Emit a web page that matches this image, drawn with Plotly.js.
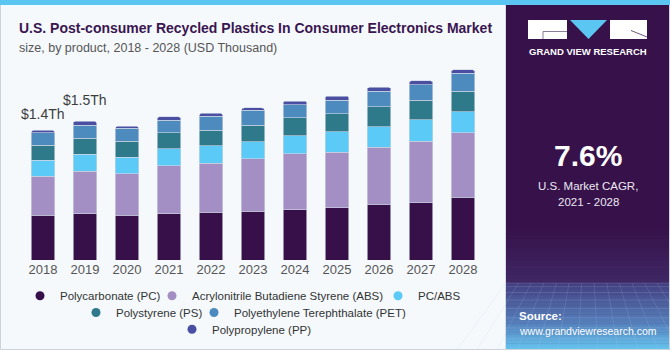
<!DOCTYPE html>
<html>
<head>
<meta charset="utf-8">
<script src="https://cdn.plot.ly/plotly-3.0.1.min.js"></script>
<style>
html,body{margin:0;padding:0;background:#f5f9fc;}
#chart{width:670px;height:350px;}
</style>
</head>
<body>
<div id="chart"></div>
<script>
// ---- data ----
var years = ['2018','2019','2020','2021','2022','2023','2024','2025','2026','2027','2028'];
var seriesNames = ['Polycarbonate (PC)','Acrylonitrile Butadiene Styrene (ABS)','PC/ABS','Polystyrene (PS)','Polyethylene Terephthalate (PET)','Polypropylene (PP)'];
var pc    = [0.486,0.500,0.486,0.500,0.518,0.526,0.543,0.562,0.602,0.616,0.680];
var abs   = [0.421,0.458,0.446,0.518,0.529,0.565,0.602,0.602,0.616,0.666,0.694];
var pcabs = [0.173,0.184,0.177,0.184,0.187,0.187,0.198,0.219,0.222,0.233,0.227];
var ps    = [0.162,0.173,0.173,0.173,0.170,0.180,0.194,0.194,0.213,0.213,0.224];
var pet   = [0.133,0.140,0.140,0.134,0.151,0.159,0.140,0.151,0.170,0.165,0.191];
var pp    = [0.026,0.043,0.022,0.039,0.029,0.025,0.040,0.043,0.043,0.043,0.039];
var labelYears = ['2018','2019'];
var labelTexts = ['$1.4Th','$1.5Th'];
var cagrText = '7.6%';

var colors = ['#37104a','#a48fc5','#5ccaf6','#2e7a8b','#4d8bbf','#4a4fa2'];
var seriesValues = [pc,abs,pcabs,ps,pet,pp];

// geometry helpers (pixel -> paper coords)
var L = 22, R = 186, T = 60, B = 90, W = 670, H = 350;
var PW = W - L - R, PH = H - T - B;
function xp(px){ return (px - L) / PW; }
function yp(py){ return (H - B - py) / PH; }

var FONT = 'Liberation Sans, Arial, sans-serif';

var traces = [];
seriesValues.forEach(function(vals, i){
  traces.push({
    type:'bar', x: years, y: vals, name: seriesNames[i],
    marker:{color: colors[i], line:{color:'rgba(205,212,228,0.9)', width:0.7}},
    showlegend:false, hoverinfo:'skip'
  });
});
// legend entries (circle symbols), one legend box per entry
var legendIds = ['legend','legend2','legend3','legend4','legend5','legend6'];
seriesNames.forEach(function(n, i){
  traces.push({
    type:'scatter', mode:'markers', x:[null], y:[null], name:n,
    marker:{color: colors[i], size:9, symbol:'circle'},
    legend: legendIds[i], showlegend:true, hoverinfo:'skip'
  });
});

function totalOf(yr){
  var k = years.indexOf(yr), s = 0;
  seriesValues.forEach(function(v){ s += v[k]; });
  return s;
}

var annotations = [];
var shifts = [16, 21];
labelYears.forEach(function(yr, i){
  annotations.push({x: years.indexOf(yr), y: totalOf(yr), xref:'x', yref:'y', text: labelTexts[i],
    showarrow:false, yshift: shifts[i], yanchor:'middle',
    font:{family:FONT, size:14, color:'#3d3d3d'}});
});
// titles
annotations.push({xref:'paper', yref:'paper', x: xp(17), y: yp(28), xanchor:'left', yanchor:'middle',
  text:'<b>U.S. Post-consumer Recycled Plastics In Consumer Electronics Market</b>', showarrow:false,
  font:{family:FONT, size:14, color:'#3a1650'}});
annotations.push({xref:'paper', yref:'paper', x: xp(17), y: yp(47.5), xanchor:'left', yanchor:'middle',
  text:'size, by product, 2018 - 2028 (USD Thousand)', showarrow:false,
  font:{family:FONT, size:12.5, color:'#555555'}});
// right panel texts
annotations.push({xref:'paper', yref:'paper', x: xp(588), y: yp(51), xanchor:'center', yanchor:'middle',
  text:'<b>GRAND VIEW RESEARCH</b>', showarrow:false, font:{family:FONT, size:9.5, color:'#ffffff'}});
annotations.push({xref:'paper', yref:'paper', x: xp(588), y: yp(155), xanchor:'center', yanchor:'middle',
  text:'<b>'+cagrText+'</b>', showarrow:false, font:{family:FONT, size:30, color:'#ffffff'}});
annotations.push({xref:'paper', yref:'paper', x: xp(588), y: yp(186), xanchor:'center', yanchor:'middle',
  text:'U.S. Market CAGR,', showarrow:false, font:{family:FONT, size:11.5, color:'#ece8f2'}});
annotations.push({xref:'paper', yref:'paper', x: xp(588), y: yp(202), xanchor:'center', yanchor:'middle',
  text:'2021 - 2028', showarrow:false, font:{family:FONT, size:11.5, color:'#ece8f2'}});
annotations.push({xref:'paper', yref:'paper', x: xp(517), y: yp(316), xanchor:'left', yanchor:'middle',
  text:'<b>Source:</b>', showarrow:false, font:{family:FONT, size:11.5, color:'#ffffff'}});
annotations.push({xref:'paper', yref:'paper', x: xp(517), y: yp(331), xanchor:'left', yanchor:'middle',
  text:'www.grandviewresearch.com', showarrow:false, font:{family:FONT, size:10.5, color:'#ffffff'}});

// shapes
function rect(x0,y0,x1,y1,fill,layer){
  return {type:'rect', xref:'paper', yref:'paper', x0:xp(x0), x1:xp(x1), y0:yp(y1), y1:yp(y0),
    fillcolor:fill, line:{width:0}, layer: layer||'below'};
}
function hex(c){ return [parseInt(c.substr(1,2),16),parseInt(c.substr(3,2),16),parseInt(c.substr(5,2),16)]; }
function mix(a,b,t){ var A=hex(a),Bc=hex(b); return 'rgb('+A.map(function(v,i){return Math.round(v+(Bc[i]-v)*t);}).join(',')+')'; }
var shapes = [];
shapes.push(rect(506,0,670,350,'#37124a'));
var n1 = 12;
for (var i=0;i<n1;i++){
  var y0 = 230 + i*(283-230)/n1, y1 = 230 + (i+1)*(283-230)/n1 + 0.5;
  shapes.push(rect(506,y0,670,y1,mix('#37124a','#3f2865',(i+0.5)/n1)));
}
var n2 = 30;
for (var j=0;j<n2;j++){
  var t = (j+0.5)/n2;
  var c = t<0.6 ? mix('#433e80','#5580bb',t/0.6) : mix('#5580bb','#66c6f0',(t-0.6)/0.4);
  var yy0 = 283 + j*(350-283)/n2, yy1 = 283 + (j+1)*(350-283)/n2 + 0.5;
  shapes.push(rect(506,yy0,670,yy1,c));
}
for (var g=0; g<8; g++){
  var yy = 283 + Math.pow(g/8,1.4)*67;
  shapes.push({type:'line', xref:'paper', yref:'paper', x0:xp(506), x1:xp(670), y0:yp(yy), y1:yp(yy),
    line:{color:'rgba(180,200,240,0.25)', width:0.7}, layer:'below'});
}
for (var v=0; v<14; v++){
  var xt = 506 + v*12.6, xb = 588 + (xt-588)*1.6;
  shapes.push({type:'line', xref:'paper', yref:'paper', x0:xp(xt), x1:xp(xb), y0:yp(283), y1:yp(350),
    line:{color:'rgba(180,200,240,0.22)', width:0.7}, layer:'below'});
}
shapes.push(rect(0,0,670,5,'#5bc6f1','above'));
shapes.push({type:'rect', xref:'paper', yref:'paper', x0:xp(0.5), x1:xp(669.5), y0:yp(349.5), y1:yp(0.5),
  line:{color:'#cdd3da', width:1}, layer:'below'});
shapes.push({type:'line', xref:'paper', yref:'paper', x0:xp(505.5), x1:xp(505.5), y0:yp(5), y1:yp(350),
  line:{color:'#d5dbe2', width:1}, layer:'below'});
// logo
shapes.push(rect(528,20,567,39,'#ffffff','above'));
shapes.push(rect(610,20,647,39,'#ffffff','above'));
shapes.push({type:'path', xref:'paper', yref:'paper', layer:'above',
  path:'M '+xp(570)+' '+yp(20)+' L '+xp(607)+' '+yp(20)+' L '+xp(588.5)+' '+yp(39)+' Z',
  fillcolor:'#5bc6f1', line:{width:0}});
shapes.push({type:'path', xref:'paper', yref:'paper', layer:'above',
  path:'M '+xp(543)+' '+yp(39)+' L '+xp(543)+' '+yp(31.5)+' L '+xp(567)+' '+yp(31.5),
  line:{color:'#8a7f96', width:1}});
shapes.push({type:'line', xref:'paper', yref:'paper', layer:'above',
  x0:xp(631), y0:yp(30.5), x1:xp(647), y1:yp(37), line:{color:'#6a5a80', width:1}});

// legend boxes: text start x and row center y from the reference
var legTextX = [60, 192, 418, 116, 234, 212];
var legRowY  = [295.7, 295.7, 295.7, 312.5, 312.5, 329.3];
var layout = {
  width: W, height: H,
  margin:{l:L, r:R, t:T, b:B, pad:0, autoexpand:false},
  paper_bgcolor:'#f5f9fc', plot_bgcolor:'#f5f9fc',
  barmode:'stack', bargap:0.43, barcornerradius:3,
  font:{family:FONT},
  xaxis:{type:'category', categoryorder:'array', categoryarray: years, range:[-0.5, years.length-0.5],
    showgrid:false, zeroline:false, showline:false, ticks:'',
    tickfont:{family:FONT, size:13, color:'#555555'}, fixedrange:true},
  yaxis:{range:[0, 2.16], visible:false, fixedrange:true},
  annotations: annotations,
  shapes: shapes,
  hovermode:false
};
legendIds.forEach(function(id, i){
  layout[id] = {orientation:'h', xanchor:'left', yanchor:'middle',
    x: xp(legTextX[i] - 40), y: yp(legRowY[i]),
    font:{family:FONT, size:11.5, color:'#333333'}, bgcolor:'rgba(0,0,0,0)', borderwidth:0,
    itemclick:false, itemdoubleclick:false};
});

Plotly.newPlot('chart', traces, layout, {displayModeBar:false, staticPlot:true});
</script>
</body>
</html>
